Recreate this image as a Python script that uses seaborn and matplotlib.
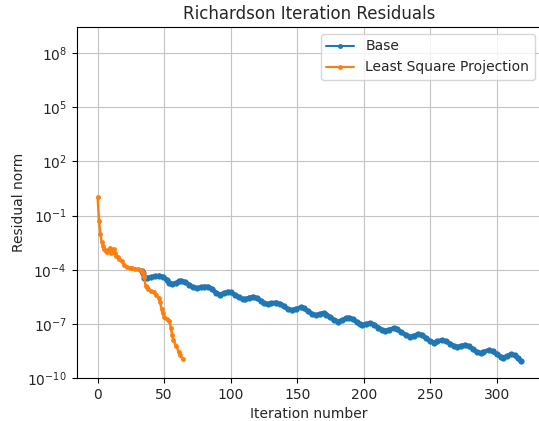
import numpy as np
import pandas as pd
import matplotlib
matplotlib.use("Agg")
import matplotlib.pyplot as plt
import matplotlib.ticker as mticker
from matplotlib.lines import Line2D
import seaborn as sns

# residual norms, stored as log10 exponents
lsp_iter = [0, 1, 2, 3, 4, 5, 6, 7, 8, 9, 10, 11, 12, 13, 14, 15, 16, 18, 20, 22,
            24, 26, 28, 30, 32, 33, 34, 35, 36, 37, 38, 40, 42, 44, 46, 47, 48, 49,
            50, 52, 54, 55, 56, 57, 59, 61, 62, 64]
lsp_log10 = [0.02, -1.32, -2.0, -2.45, -2.7, -2.87, -2.95, -3.0, -2.9, -2.79, -3.07,
             -2.95, -2.85, -3.1, -3.26, -3.3, -3.4, -3.5, -3.72, -3.83, -3.9, -3.93,
             -3.95, -3.97, -4.0, -4.06, -4.18, -4.42, -4.89, -4.95, -5.07, -5.17,
             -5.25, -5.4, -5.55, -5.8, -6.18, -6.4, -6.6, -6.75, -6.83, -7.2, -7.6,
             -7.9, -8.22, -8.55, -8.7, -8.96]

# base run (its first iterations coincide with the orange run and are hidden by it)
base_iter = [33, 34, 35, 37, 40, 43, 46, 49, 52, 54, 56, 59, 61,
             63, 66, 69, 72, 75, 78, 80, 83, 86, 89, 92, 95, 98, 100, 103, 106, 109,
             111, 114, 117, 120, 123, 125, 128, 130, 134, 137, 140, 143, 146, 149,
             153, 155, 158, 161, 164, 167, 170, 172, 175, 178, 181, 184, 187, 189,
             192, 195, 197, 199, 202, 205, 208, 211, 214, 216, 219, 223, 225, 228,
             232, 235, 238, 241, 244, 247, 250, 253, 255, 259, 262, 265, 268, 270,
             273, 276, 279, 282, 285, 288, 290, 294, 297, 300, 303, 305, 308, 311,
             314, 316, 318]
base_log10 = [-4.06, -4.18, -4.43, -4.45, -4.42, -4.36, -4.33,
              -4.38, -4.55, -4.72, -4.79, -4.74, -4.64, -4.61, -4.68, -4.85, -4.98,
              -5.02, -4.98, -4.94, -4.94, -5.08, -5.27, -5.39, -5.3, -5.22, -5.25,
              -5.38, -5.52, -5.62, -5.63, -5.55, -5.5, -5.57, -5.74, -5.86, -5.9,
              -5.86, -5.82, -5.88, -6.02, -6.18, -6.24, -6.17, -6.09, -6.13, -6.28,
              -6.44, -6.52, -6.45, -6.4, -6.48, -6.63, -6.8, -6.87, -6.8, -6.68,
              -6.65, -6.74, -6.9, -7.02, -7.06, -7.0, -6.96, -7.04, -7.2, -7.33,
              -7.39, -7.32, -7.24, -7.28, -7.45, -7.62, -7.72, -7.65, -7.57, -7.62,
              -7.8, -7.95, -8.04, -7.97, -7.9, -7.96, -8.1, -8.23, -8.28, -8.22,
              -8.17, -8.23, -8.4, -8.55, -8.63, -8.55, -8.46, -8.52, -8.68, -8.82,
              -8.87, -8.77, -8.68, -8.75, -8.9, -9.05]

ytick_exp = [-10, -7, -4, -1, 2, 5, 8]

df_base = pd.DataFrame({"it": base_iter, "res": 10.0 ** np.array(base_log10)})
df_lsp = pd.DataFrame({"it": lsp_iter, "res": 10.0 ** np.array(lsp_log10)})

sns.set_style("ticks")
plt.rcParams["font.family"] = ["DejaVu Sans"]

fig = plt.figure(figsize=(5.39, 4.21), dpi=100)
ax = fig.add_axes([0.142, 0.102, 0.863, 0.834])

# base run: dense markers make the line look like a thick band
sns.lineplot(data=df_base, x="it", y="res", ax=ax, color="#1f77b4", legend=False,
             marker="o", markersize=4.5, markeredgewidth=0, linewidth=3.2)
sns.lineplot(data=df_lsp, x="it", y="res", ax=ax, color="#ff7f0e", legend=False,
             marker="o", markersize=3.5, markeredgewidth=0, linewidth=1.8)

ax.set_xlim(-15.9, 333.9)
ax.set_yscale("log")
ax.set_ylim(1e-10, 10 ** 9.45)
ax.set_yticks([10.0 ** e for e in ytick_exp])
ax.yaxis.set_minor_locator(mticker.NullLocator())
ax.grid(True, color="#c4c4c4", linewidth=0.8)
ax.tick_params(labelsize=10, length=3.5, color="black")
for s in ax.spines.values():
    s.set_color("black")
    s.set_linewidth(0.8)
ax.spines["right"].set_visible(False)

ax.set_title("Richardson Iteration Residuals", fontsize=12)
ax.set_xlabel("Iteration number", fontsize=10)
ax.set_ylabel("Residual norm", fontsize=10, labelpad=1)

handles = [
    Line2D([], [], color="#1f77b4", marker="o", markersize=2.5, linewidth=1.5),
    Line2D([], [], color="#ff7f0e", marker="o", markersize=2.5, linewidth=1.5),
]
ax.legend(handles, ["Base", "Least Square Projection"], loc="upper right", fontsize=10)

fig.savefig("out.png", dpi=100)
